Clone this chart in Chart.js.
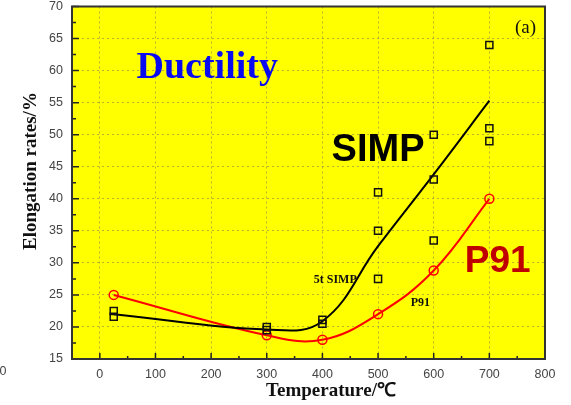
<!DOCTYPE html>
<html>
<head>
<meta charset="utf-8">
<script src="https://cdn.jsdelivr.net/npm/chart.js@4.4.1/dist/chart.umd.min.js"></script>
<style>
  html, body { margin: 0; padding: 0; background: #fff; }
  canvas { display: block; }
</style>
</head>
<body>
<canvas id="ductility" width="571" height="405"></canvas>
<script>
// test temperatures (°C)
const temps = [25, 300, 400, 500, 600, 700];
// fitted SIMP trend and P91 averages (%)
const simpFit = [22, 19.6, 20.9, 32.6, 43.8, 55.3];
const p91 = [25, 18.7, 18, 22, 28.8, 40];
// individual 5t SIMP specimens
const simpTemps = [25, 25, 300, 300, 400, 400, 500, 500, 500, 600, 600, 600, 700, 700, 700];
const simpMeasured = [22.5, 21.6, 20, 19.5, 21.1, 20.5, 41, 35, 27.5, 50, 43, 33.5, 64, 51, 49];
// axis ticks
const xTicks = [0, 100, 200, 300, 400, 500, 600, 700, 800];
const yTicks = [15, 20, 25, 30, 35, 40, 45, 50, 55, 60, 65, 70];

const pts = (xs, ys) => xs.map((x, i) => ({ x: x, y: ys[i] }));

const serif = '"Liberation Serif", "Times New Roman", serif';
const sans = '"Liberation Sans", Arial, sans-serif';

function text(ctx, str, x, y, font, color, align) {
    ctx.font = font;
    ctx.fillStyle = color;
    ctx.textAlign = align || 'center';
    ctx.textBaseline = 'middle';
    ctx.fillText(str, x, y);
}

const framePlugin = {
    id: 'frame',
    beforeDraw(chart) {
        const a = chart.chartArea, ctx = chart.ctx;
        ctx.save();
        ctx.fillStyle = '#ffff00';
        ctx.fillRect(a.left, a.top, a.right - a.left, a.bottom - a.top);
        ctx.restore();
    },
    afterDraw(chart) {
        const a = chart.chartArea, ctx = chart.ctx;
        const x = chart.scales.x, y = chart.scales.y;
        ctx.save();
        // inward tick marks, minor ones in between
        ctx.strokeStyle = '#222';
        ctx.lineWidth = 1.5;
        ctx.beginPath();
        for (let v = -50; v <= 800; v += 50) {
            const px = x.getPixelForValue(v);
            const len = v % 100 === 0 ? 6 : 3;
            ctx.moveTo(px, a.bottom);
            ctx.lineTo(px, a.bottom - len);
        }
        for (let v = 15; v <= 70; v += 2.5) {
            const py = y.getPixelForValue(v);
            const len = v % 5 === 0 ? 7 : 4;
            ctx.moveTo(a.left, py);
            ctx.lineTo(a.left + len, py);
        }
        ctx.stroke();
        // box
        ctx.strokeStyle = '#333';
        ctx.lineWidth = 2;
        ctx.strokeRect(a.left, a.top, a.right - a.left, a.bottom - a.top);

        // axis titles
        text(ctx, 'Temperature/\u2103', 331, 391, 'bold 19px ' + serif, '#111');
        ctx.save();
        ctx.translate(31, 171);
        ctx.rotate(-Math.PI / 2);
        text(ctx, 'Elongation rates/%', 0, 0, 'bold 19px ' + serif, '#111');
        ctx.restore();
        // leftover label at the far left
        text(ctx, '0', 3, 372, '12.5px ' + sans, '#444');
        ctx.restore();
    },
    afterDatasetsDraw(chart) {
        const ctx = chart.ctx;
        const x = chart.scales.x, y = chart.scales.y;
        const at = (tx, ty) => [x.getPixelForValue(tx), y.getPixelForValue(ty)];
        ctx.save();
        let p = at(193, 60.3);
        text(ctx, 'Ductility', p[0], p[1], 'bold 38px ' + serif, '#0a0af0');
        p = at(765, 66.6);
        text(ctx, '(a)', p[0], p[1], '19px ' + serif, '#111');
        p = at(500, 47.6);
        text(ctx, 'SIMP', p[0], p[1], 'bold 38px ' + sans, '#000');
        p = at(715, 30.1);
        text(ctx, 'P91', p[0], p[1], 'bold 37px ' + sans, '#c00000');
        p = at(423, 27.3);
        text(ctx, '5t SIMP', p[0], p[1], 'bold 12px ' + serif, '#111');
        p = at(576, 23.8);
        text(ctx, 'P91', p[0], p[1], 'bold 12px ' + serif, '#111');
        ctx.restore();
    }
};

new Chart(document.getElementById('ductility'), {
    type: 'scatter',
    plugins: [framePlugin],
    data: {
        datasets: [
            {
                label: '5t SIMP',
                data: pts(simpTemps, simpMeasured),
                pointStyle: 'rect',
                pointRadius: 5,
                borderColor: '#111',
                backgroundColor: 'rgba(0,0,0,0)',
                borderWidth: 1.5,
                order: 0
            },
            {
                label: 'SIMP fit',
                data: pts(temps, simpFit),
                showLine: true,
                tension: 0.4,
                borderColor: '#000',
                borderWidth: 2,
                pointRadius: 0,
                order: 1
            },
            {
                label: 'P91',
                data: pts(temps, p91),
                showLine: true,
                tension: 0.4,
                borderColor: '#ff0000',
                borderWidth: 2,
                pointStyle: 'circle',
                pointRadius: 4.5,
                pointBorderWidth: 1.5,
                pointBackgroundColor: 'rgba(0,0,0,0)',
                order: 2
            }
        ]
    },
    options: {
        responsive: false,
        animation: false,
        layout: { padding: { top: 6, right: 26, left: 0, bottom: 0 } },
        plugins: {
            legend: { display: false },
            tooltip: { enabled: false }
        },
        scales: {
            x: {
                type: 'linear',
                min: -50,
                max: 800,
                afterBuildTicks: (scale) => { scale.ticks = xTicks.map(v => ({ value: v })); },
                afterFit: (scale) => { scale.height = 46; },
                ticks: { color: '#444', font: { family: sans, size: 12.5 }, padding: 8, maxRotation: 0 },
                grid: { color: 'rgba(110,110,90,0.5)', lineWidth: 1, drawTicks: false },
                border: { display: false, dash: [2, 3] }
            },
            y: {
                type: 'linear',
                min: 15,
                max: 70,
                afterBuildTicks: (scale) => { scale.ticks = yTicks.map(v => ({ value: v })); },
                afterFit: (scale) => {
                    scale.width = 72;
                    // let the top label overhang so the box reaches near the top edge
                    scale.paddingTop = 0;
                    scale.paddingBottom = 0;
                },
                ticks: { color: '#444', font: { family: sans, size: 12.5, lineHeight: 1 }, padding: 9 },
                grid: { color: 'rgba(110,110,90,0.5)', lineWidth: 1, drawTicks: false },
                border: { display: false, dash: [2, 3] }
            }
        }
    }
});
</script>
</body>
</html>
